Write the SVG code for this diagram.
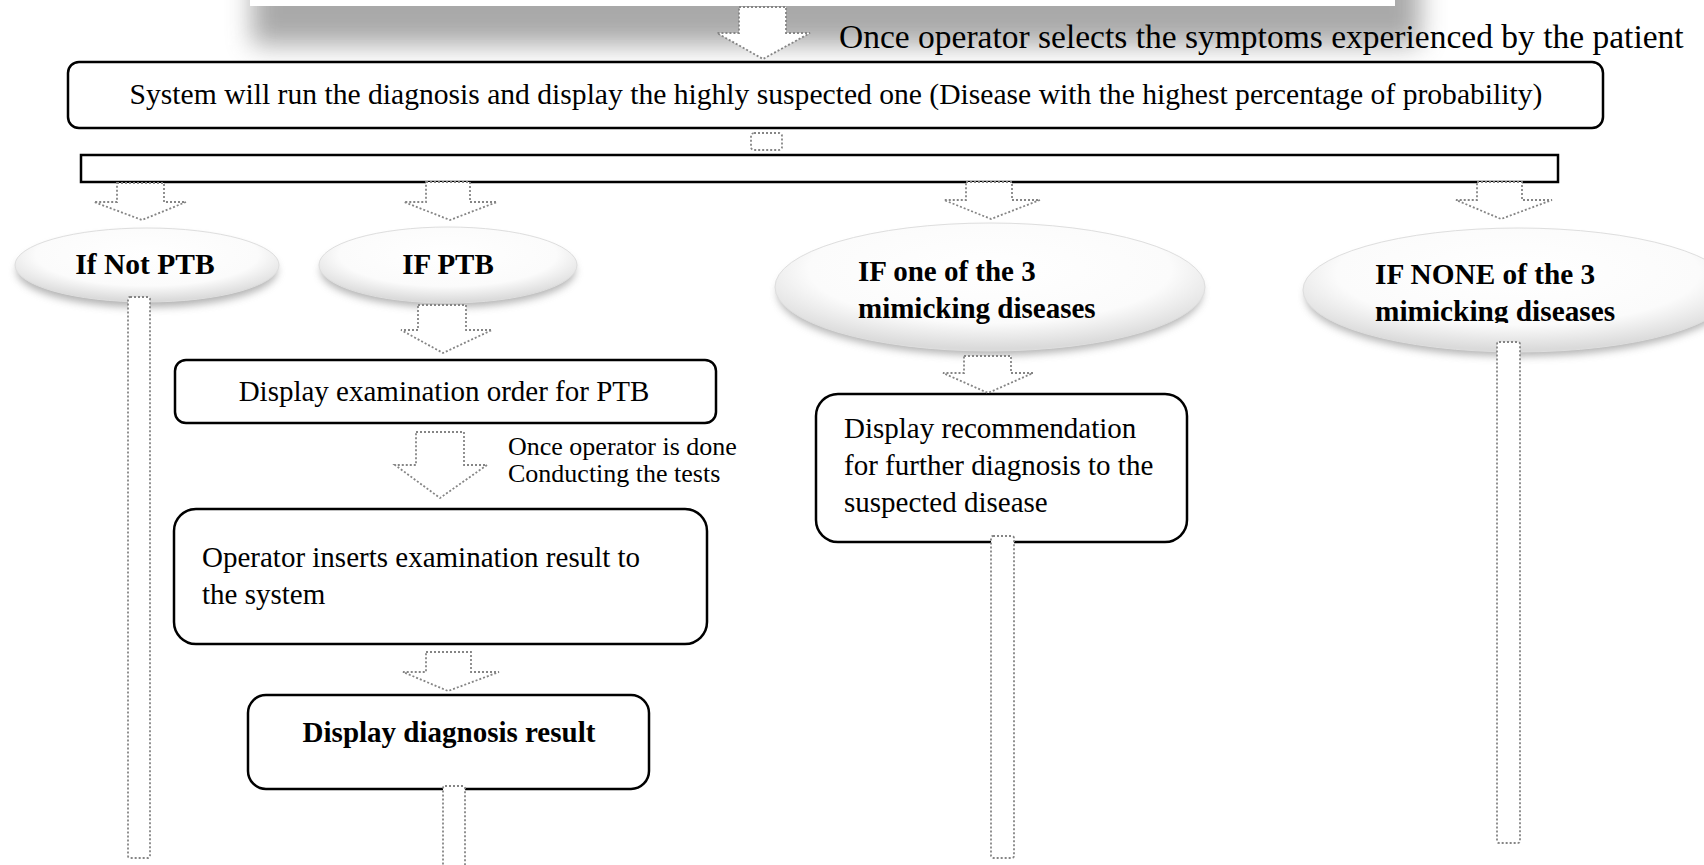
<svg xmlns="http://www.w3.org/2000/svg" width="1704" height="865" viewBox="0 0 1704 865">
  <defs>
    <style>
      .box { fill: #ffffff; stroke: #000000; stroke-width: 2.5; }
      .conn { fill: #ffffff; stroke: #858585; stroke-width: 1.8; stroke-dasharray: 2 2; }
      .t { font-family: "Liberation Serif", "Times New Roman", serif; fill: #000000; }
      .b { font-weight: bold; }
      .oval { fill: url(#gloss); stroke: #dedede; stroke-width: 1; }
      .ovalShadow { fill: #7a7a7a; opacity: 0.6; filter: url(#soft); }
    </style>
    <radialGradient id="gloss" cx="50%" cy="36%" r="62%">
      <stop offset="0" stop-color="#ffffff"/>
      <stop offset="0.68" stop-color="#fbfbfb"/>
      <stop offset="1" stop-color="#dadada"/>
    </radialGradient>
    <filter id="soft" x="-10%" y="-30%" width="120%" height="160%">
      <feGaussianBlur stdDeviation="4"/>
    </filter>
    <filter id="haze" x="-10%" y="-100%" width="120%" height="300%">
      <feGaussianBlur stdDeviation="13"/>
    </filter>
    <clipPath id="clipNone">
      <rect x="1290" y="220" width="414" height="103"/>
    </clipPath>
  </defs>

  <!-- header panel running off the top edge, with its drop shadow -->
  <g id="header-panel">
    <rect x="252" y="-90" width="1168" height="135" fill="#555555" opacity="0.5" filter="url(#haze)"/>
    <rect x="250" y="-90" width="1145" height="96" fill="#ffffff"/>
  </g>

  <!-- nodes -->
  <g id="label-select">
    <text class="t" x="839" y="48" font-size="33.5">Once operator selects the symptoms experienced by the patient</text>
  </g>

  <g id="node-diagnosis">
    <rect class="box" x="68" y="62" width="1535" height="66" rx="11"/>
    <text class="t" x="836" y="104" font-size="29.6" text-anchor="middle">System will run the diagnosis and display the highly suspected one (Disease with the highest percentage of probability)</text>
  </g>

  <g id="node-split">
    <rect class="box" x="81" y="155" width="1477" height="27"/>
  </g>

  <g id="node-not-ptb">
    <ellipse class="ovalShadow" cx="147" cy="271" rx="130" ry="36"/>
    <ellipse class="oval" cx="147" cy="265" rx="132" ry="37"/>
    <text class="t b" x="145" y="274" font-size="29.5" text-anchor="middle">If Not PTB</text>
  </g>

  <g id="node-ptb">
    <ellipse class="ovalShadow" cx="448" cy="271" rx="127" ry="36"/>
    <ellipse class="oval" cx="448" cy="265" rx="129" ry="38"/>
    <text class="t b" x="448" y="274" font-size="29" text-anchor="middle">IF PTB</text>
  </g>

  <g id="node-one-mimic">
    <ellipse class="ovalShadow" cx="990" cy="293" rx="212" ry="62"/>
    <ellipse class="oval" cx="990" cy="287" rx="215" ry="64"/>
    <text class="t b" font-size="29">
      <tspan x="858" y="281">IF one of the 3</tspan>
      <tspan x="858" y="318">mimicking diseases</tspan>
    </text>
  </g>

  <g id="node-none-mimic">
    <ellipse class="ovalShadow" cx="1518" cy="296" rx="212" ry="60"/>
    <ellipse class="oval" cx="1518" cy="290" rx="215" ry="62"/>
    <text class="t b" font-size="29.3" clip-path="url(#clipNone)">
      <tspan x="1375" y="284">IF NONE of the 3</tspan>
      <tspan x="1375" y="321">mimicking diseases</tspan>
    </text>
  </g>

  <g id="node-exam-order">
    <rect class="box" x="175" y="360" width="541" height="63" rx="11"/>
    <text class="t" x="444" y="401" font-size="29" text-anchor="middle">Display examination order for PTB</text>
  </g>

  <g id="label-tests-done">
    <text class="t" font-size="26">
      <tspan x="508" y="455">Once operator is done</tspan>
      <tspan x="508" y="482">Conducting the tests</tspan>
    </text>
  </g>

  <g id="node-insert-result">
    <rect class="box" x="174" y="509" width="533" height="135" rx="22"/>
    <text class="t" font-size="29">
      <tspan x="202" y="567">Operator inserts examination result to</tspan>
      <tspan x="202" y="604">the system</tspan>
    </text>
  </g>

  <g id="node-diagnosis-result">
    <rect class="box" x="248" y="695" width="401" height="94" rx="18"/>
    <text class="t b" x="449" y="742" font-size="29" text-anchor="middle">Display diagnosis result</text>
  </g>

  <g id="node-recommendation">
    <rect class="box" x="816" y="394" width="371" height="148" rx="22"/>
    <text class="t" font-size="29">
      <tspan x="844" y="438">Display recommendation</tspan>
      <tspan x="844" y="475">for further diagnosis to the</tspan>
      <tspan x="844" y="512">suspected disease</tspan>
    </text>
  </g>

  <!-- block arrows and flow columns -->
  <g id="connectors">
    <path class="conn" d="M739 7 H786 V33 H810 L763 59 L717 33 H739 Z"/>
    <rect class="conn" x="751" y="133" width="31" height="17" rx="3"/>

    <path class="conn" d="M117 183 H164 V202 H186 L142 220 L94 202 H117 Z"/>
    <path class="conn" d="M426 182 H470 V202 H497 L450 220 L404 202 H426 Z"/>
    <path class="conn" d="M966 182 H1012 V200 H1040 L991 219 L944 200 H966 Z"/>
    <path class="conn" d="M1477 182 H1522 V200 H1552 L1501 219 L1456 200 H1477 Z"/>

    <rect class="conn" x="128" y="297" width="22" height="561" rx="2"/>

    <path class="conn" d="M418 305 H466 V330 H492 L443 353 L401 330 H418 Z"/>
    <path class="conn" d="M416 432 H464 V465 H487 L440 498 L395 465 H416 Z"/>
    <path class="conn" d="M426 652 H471 V672 H499 L448 691 L403 672 H426 Z"/>
    <rect class="conn" x="443" y="786" width="22" height="100" rx="2"/>

    <path class="conn" d="M964 356 H1011 V373 H1033 L988 393 L943 373 H964 Z"/>
    <rect class="conn" x="991" y="536" width="23" height="322" rx="2"/>

    <rect class="conn" x="1497" y="342" width="23" height="501" rx="2"/>
  </g>
</svg>
